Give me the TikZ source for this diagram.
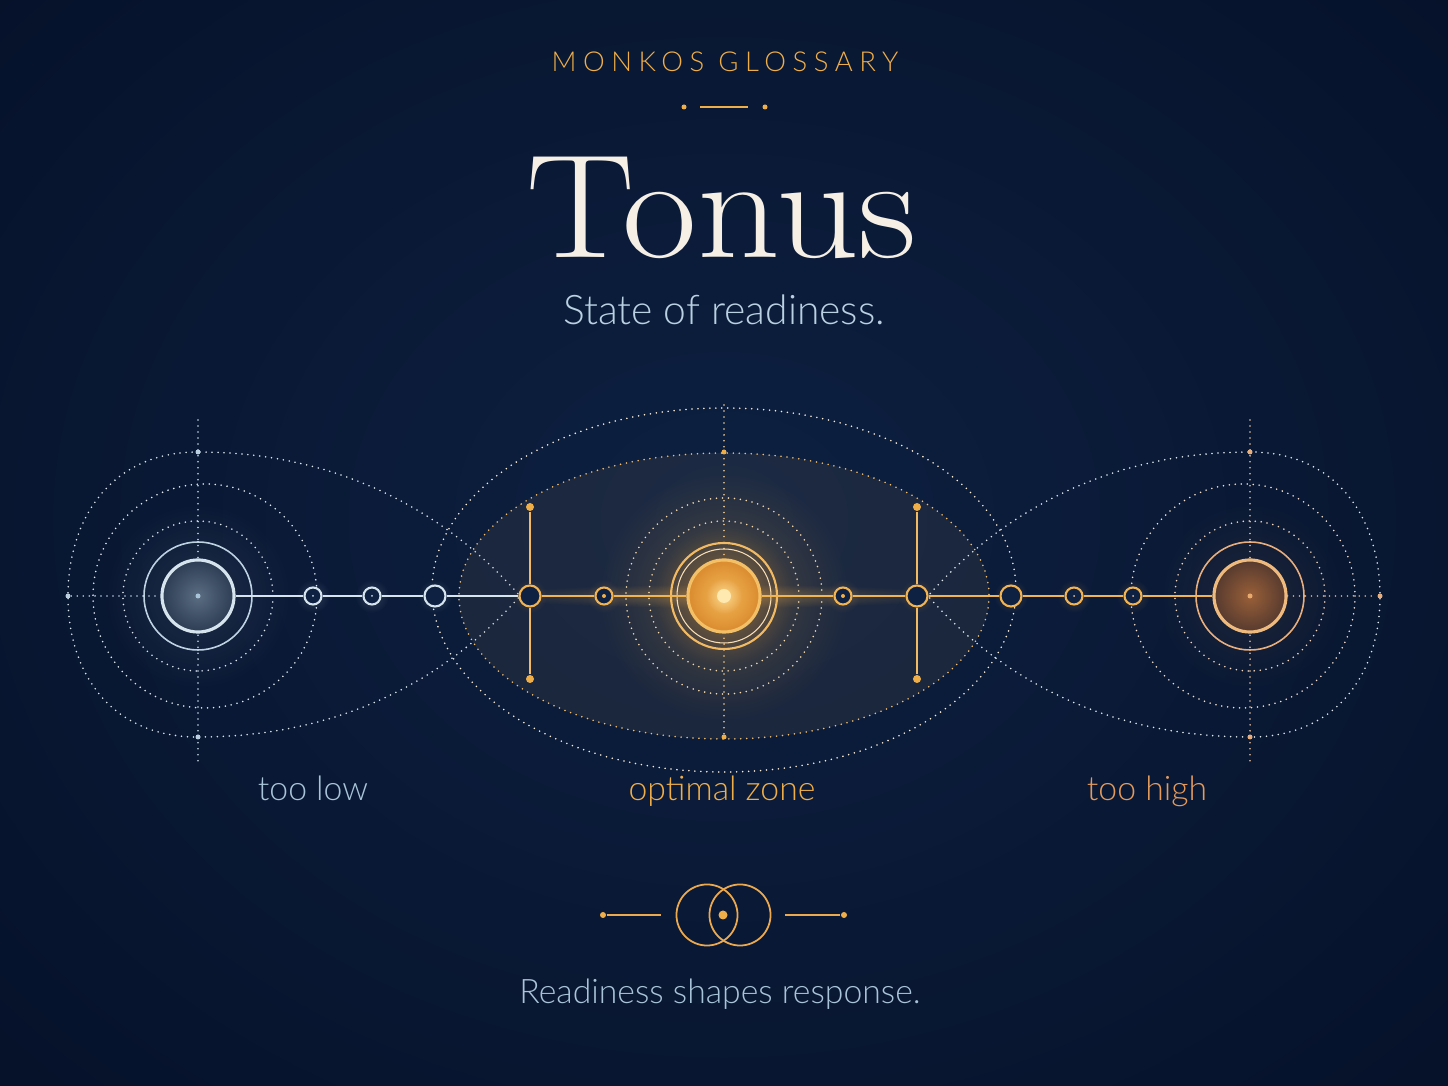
\documentclass[tikz,border=0pt]{standalone}
\usepackage{fontspec}
\newfontfamily\labelfont{Lato Light}
\usetikzlibrary{positioning, fadings}

\definecolor{bgdeep}{HTML}{06122A}
\definecolor{bgmid}{HTML}{0E2142}
\definecolor{gold}{HTML}{F0AE48}
\definecolor{paleGold}{HTML}{FFE9B0}
\definecolor{amber}{HTML}{E8952E}
\definecolor{frost}{HTML}{D6E4EE}
\definecolor{mist}{HTML}{A9C4D8}
\definecolor{slate}{HTML}{3C4F66}
\definecolor{ember}{HTML}{E39A5C}
\definecolor{rust}{HTML}{8C5532}
\definecolor{ivory}{HTML}{F5EFE6}

\tikzfading[name=glowfade, inner color=transparent!0, outer color=transparent!100]

\begin{document}
\begin{tikzpicture}[x=0.01cm, y=-0.01cm,
    ring/.style={draw, circle, inner sep=0pt, line width=0.6pt, fill=bgmid},
    stop/.style={ring, minimum size=0.17cm},
    gate/.style={ring, minimum size=0.21cm},
    pole/.style={circle, draw, inner sep=0pt, minimum size=0.72cm, line width=0.9pt},
    pin/.style={circle, fill, inner sep=0pt, minimum size=0.06cm},
    orbit/.style={line width=0.5pt, line cap=round, dash pattern=on 0pt off 1.7pt},
    link/.style={line width=0.7pt},
    glow/.style={path fading=glowfade, fill opacity=#1},
    caption/.style={font=\labelfont\fontsize{9.6}{12}\selectfont, anchor=base},
    ]

    % Background
    \useasboundingbox (0,0) rectangle (1448,1086);
    \clip (0,0) rectangle (1448,1086);
    \fill[bgdeep] (0,0) rectangle (1448,1086);
    \fill[bgmid, glow=1] (724,520) ellipse (1000 and 800);

    % Heading
    \node[font=\labelfont\fontsize{7.8}{9}\selectfont\addfontfeature{LetterSpace=24}, text=gold, anchor=base] (kicker) at (725,72) {MONKOS GLOSSARY};
    \node[pin, gold, minimum size=0.05cm] (ornL) at (684,107) {};
    \node[pin, gold, minimum size=0.05cm] (ornR) at (765,107) {};
    \coordinate (dashL) at (700,107);
    \coordinate (dashR) at (748,107);
    \draw[gold, line width=0.5pt] (dashL) -- (dashR);
    \node[text=ivory, font=\fontsize{42}{48}\selectfont, anchor=base] (title) at (722,258) {\scalebox{1.1}[1]{Tonus}};
    \node[caption, font=\labelfont\fontsize{11.6}{14}\selectfont, text=mist!60!frost] (tagline) at (724,325) {State of readiness.};

    % too low
    \fill[frost, glow=.10] (198,596) circle (95);
    \draw[orbit, mist!40] (198,452) .. controls (110,452) and (68,520) .. (68,596)
      .. controls (68,672) and (110,737) .. (198,737)
      .. controls (330,737) and (440,687) .. (520,596)
      .. controls (440,505) and (330,452) .. (198,452);
    \draw[orbit, mist!30] (205,596) circle (112);
    \draw[orbit, mist!40] (198,596) circle (75);
    \draw[mist!75, line width=0.45pt] (198,596) circle (54);
    \draw[orbit, mist!60] (198,420) -- (198,765);
    \node[pin, mist!80, minimum size=0.05cm] (lowtop) at (198,452) {};
    \node[pin, mist!80, minimum size=0.05cm] (lowbot) at (198,737) {};
    \node[pin, mist!80, minimum size=0.05cm] (lowend) at (68,596) {};

    % optimal zone
    \fill[gold!60!slate, fill opacity=.10] (724,596) ellipse (265 and 143);
    \draw[orbit, gold!22] (724,590) ellipse (292 and 182);
    \draw[orbit, gold!80] (724,596) ellipse (265 and 143);
    \draw[orbit, gold!55] (724,405) -- (724,737);
    \fill[gold, glow=.25] (724,596) circle (125);
    \fill[amber, glow=.4] (724,596) circle (70);
    \fill[gold, glow=.3] (724,596) ellipse (230 and 12);
    \foreach \r in {75,98} \draw[orbit, gold!45] (724,596) circle (\r);
    \draw[gold!40, line width=0.3pt] (724,596) circle (47);
    \draw[gold!85, line width=0.6pt] (724,596) circle (53);
    \node[pin, gold, minimum size=0.05cm] (opttop) at (724,452) {};
    \node[pin, gold, minimum size=0.05cm] (optbot) at (724,737) {};

    % too high
    \fill[ember, glow=.10] (1250,596) circle (95);
    \draw[orbit, mist!35] (1250,452) .. controls (1338,452) and (1380,520) .. (1380,596)
      .. controls (1380,672) and (1338,737) .. (1250,737)
      .. controls (1118,737) and (1008,687) .. (928,596)
      .. controls (1008,505) and (1118,452) .. (1250,452);
    \draw[orbit, ember!30] (1243,596) circle (112);
    \draw[orbit, ember!40] (1250,596) circle (75);
    \draw[ember!80, line width=0.45pt] (1250,596) circle (54);
    \draw[orbit, ember!60] (1250,420) -- (1250,765);
    \node[pin, ember!80, minimum size=0.05cm] (hightop) at (1250,452) {};
    \node[pin, ember!80, minimum size=0.05cm] (highbot) at (1250,737) {};
    \node[pin, ember!80, minimum size=0.05cm] (highend) at (1380,596) {};

    % Poles
    \node[pole, draw=frost, inner color=slate!80!frost, outer color=slate!70!bgdeep] (low) at (198,596) {};
    \node[pin, mist, minimum size=0.05cm] at (low.center) (lowcore) {};
    \node[pole, draw=gold!70!paleGold, inner color=gold!85!paleGold, outer color=amber!85!rust] (opt) at (724,596) {};
    \fill[paleGold, glow=.6] (724,596) circle (18);
    \node[pin, paleGold, minimum size=0.14cm] at (opt.center) (optcore) {};
    \node[pole, draw=ember!60!paleGold, inner color=rust!85!ember, outer color=rust!60!bgdeep] (high) at (1250,596) {};
    \node[pin, ember!80!paleGold, minimum size=0.05cm] at (high.center) (highcore) {};

    % Stops on the axis
    \foreach \x in {313,372,435} \fill[frost, glow=.18] (\x,596) circle (17);
    \foreach \x in {530,604,843,917,1011,1074,1133} \fill[gold, glow=.2] (\x,596) circle (17);
    \node[stop, draw=frost] (l1) at (313,596) {};
    \node[stop, draw=frost] (l2) at (372,596) {};
    \node[gate, draw=frost] (l3) at (435,596) {};
    \node[gate, draw=gold!90!paleGold] (gateL) at (530,596) {};
    \node[stop, draw=gold!90!paleGold] (o1) at (604,596) {};
    \node[stop, draw=gold!90!paleGold] (o2) at (843,596) {};
    \node[gate, draw=gold!90!paleGold] (gateR) at (917,596) {};
    \node[gate, draw=gold!90!paleGold] (h1) at (1011,596) {};
    \node[stop, draw=gold!90!paleGold] (h2) at (1074,596) {};
    \node[stop, draw=gold!90!paleGold] (h3) at (1133,596) {};
    \foreach \s in {o1, o2} \node[pin, gold, minimum size=0.04cm] at (\s.center) {};
    \foreach \s in {l1, l2} \node[pin, mist!60, minimum size=0.02cm] at (\s.center) {};
    \foreach \s in {h2, h3} \node[pin, ember!60, minimum size=0.02cm] at (\s.center) {};

    % Gate posts
    \node[pin, gold, minimum size=0.08cm] (gLtop) at (530,507) {};
    \node[pin, gold, minimum size=0.08cm] (gLbot) at (530,679) {};
    \node[pin, gold, minimum size=0.08cm] (gRtop) at (917,507) {};
    \node[pin, gold, minimum size=0.08cm] (gRbot) at (917,679) {};
    \foreach \g/\p in {gateL/gL, gateR/gR} {
      \draw[gold!85, line width=0.5pt] (\g) -- (\p top);
      \draw[gold!85, line width=0.5pt] (\g) -- (\p bot);
    }

    % Axis
    \draw[orbit, mist!80] (lowend) -- (low);
    \draw[orbit, ember!80] (high) -- (highend);
    \foreach \a/\b in {low/l1, l1/l2, l2/l3, l3/gateL}
      \draw[link, frost] (\a) -- (\b);
    \foreach \a/\b in {gateL/o1, o1/opt, opt/o2, o2/gateR, gateR/h1, h1/h2, h2/h3, h3/high}
      \draw[link, gold!90!paleGold] (\a) -- (\b);

    % Zone labels
    \node[caption, text=mist] (lowtag) at (313,801) {too low};
    \node[caption, text=gold] (opttag) at (722,801) {optimal zone};
    \node[caption, text=ember] (hightag) at (1147,801) {too high};

    % Closing mark
    \node[ring, draw=gold!75!ember, fill=none, line width=0.5pt, minimum size=0.61cm] (lensL) at (707,915) {};
    \node[ring, draw=gold!75!ember, fill=none, line width=0.5pt, minimum size=0.61cm] (lensR) at (740,915) {};
    \node[pin, gold, minimum size=0.09cm] (seed) at (723,915) {};
    \node[pin, gold, minimum size=0.06cm] (capL) at (603,915) {};
    \node[pin, gold, minimum size=0.06cm] (capR) at (844,915) {};
    \coordinate (tailL) at (661,915);
    \coordinate (tailR) at (785,915);
    \draw[gold!75!ember, line width=0.5pt] (capL) -- (tailL);
    \draw[gold!75!ember, line width=0.5pt] (tailR) -- (capR);
    \node[caption, text=mist] (motto) at (720,1004) {Readiness shapes response.};
\end{tikzpicture}
\end{document}
